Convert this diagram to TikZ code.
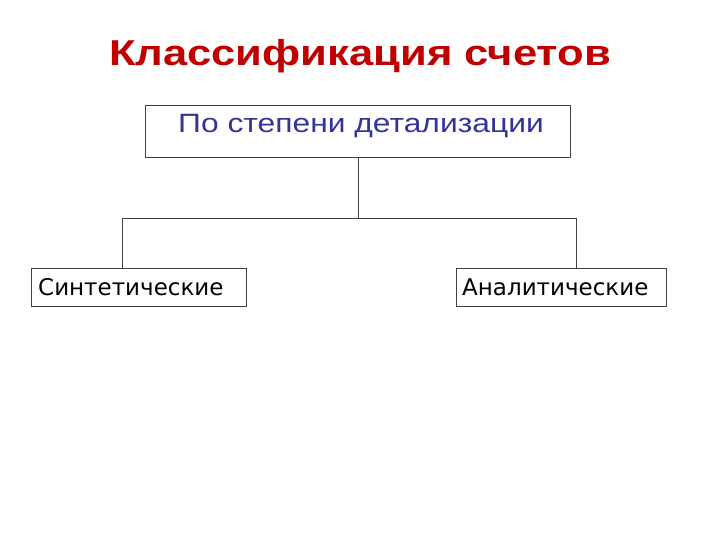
\documentclass[tikz,border=0pt]{standalone}
\usepackage{fontspec}
\setmainfont{Liberation Sans}
\newfontfamily\dejavu{DejaVu Sans}
\definecolor{titlered}{HTML}{C00000}
\definecolor{boxblue}{HTML}{333399}
\definecolor{linegray}{HTML}{404040}
\begin{document}
\begin{tikzpicture}[x=1pt,y=-1pt,
  box/.style={draw=linegray, line width=0.9pt, inner sep=0pt},
  conn/.style={draw=linegray, line width=0.9pt},
  lbl/.style={font=\dejavu\fontsize{23}{26}\selectfont, anchor=base west, inner sep=0pt}]
\useasboundingbox (0,0) rectangle (720,540);
\node[font=\fontsize{36}{40}\selectfont\bfseries, text=titlered, anchor=base, inner sep=0pt] (title) at (360,66) {\scalebox{1.21}[1]{Классификация счетов}};
\node[box, minimum width=425, minimum height=52, anchor=north west] (top) at (145,105) {};
\node[font=\fontsize{26.5}{30}\selectfont, text=boxblue, anchor=base, inner sep=0pt] (toptext) at (361,133) {\scalebox{1.2}[1]{По степени детализации}};
\node[box, minimum width=215, minimum height=38, anchor=north west] (left) at (31,268) {};
\node[lbl] (ltext) at (38,295) {Синтетические};
\node[box, minimum width=210, minimum height=38, anchor=north west] (right) at (456,268) {};
\node[lbl] (rtext) at (462,295) {Аналитические};
\coordinate (jl) at (122,218);
\coordinate (jr) at (576,218);
\draw[conn] (top.south) -- (top.south |- jl);
\draw[conn] (jl) -- (jr);
\draw[conn] (jl) -- (jl |- left.north);
\draw[conn] (jr) -- (jr |- right.north);
\end{tikzpicture}
\end{document}
